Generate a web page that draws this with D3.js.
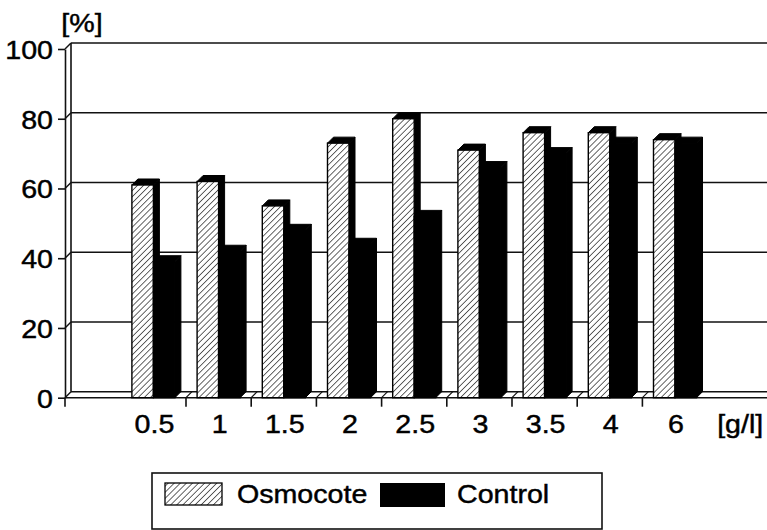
<!DOCTYPE html>
<html><head><meta charset="utf-8">
<script src="https://cdn.jsdelivr.net/npm/d3@7"></script>
<style>
html,body{margin:0;padding:0;background:#fff;}
svg text{font-family:"Liberation Sans",Arial,sans-serif;fill:#000;stroke:#000;stroke-width:0.45px;}
</style></head>
<body><svg id="c" width="767" height="530"></svg>
<script>
const categories = ["0.5","1","1.5","2","2.5","3","3.5","4","6"];
const osmocote = [61,62,55,73,80,71,76,76,74];
const control  = [39,42,48,44,52,66,70,73,73];
const seriesNames = ["Osmocote","Control"];
const yTicks = [0,20,40,60,80,100];
const yUnit = "[%]";
const xUnit = "[g/l]";

const W = 767, H = 530;
const dx = 6, dy = 6;           // 3D depth offset
const axisX = 65;
const svg = d3.select("#c");

const y = d3.scaleLinear().domain([0,100]).range([397.7,49]);
const x = d3.scaleBand().domain(categories).range([120.8,707.6]).paddingInner(0).paddingOuter(0);
const xs = d3.scaleBand().domain(seriesNames).range([0,x.bandwidth()]).paddingInner(0).paddingOuter(0.516);

const defs = svg.append("defs");
const pat = defs.append("pattern").attr("id","hatch").attr("patternUnits","userSpaceOnUse")
  .attr("width",4.3).attr("height",4.3).attr("patternTransform","rotate(45)");
pat.append("rect").attr("width",4.3).attr("height",4.3).attr("fill","#fff");
pat.append("line").attr("x1",0).attr("y1",0).attr("x2",0).attr("y2",4.3).attr("stroke","#000").attr("stroke-width",1.2);

const ink = "#111";
const g = svg.append("g");

// back wall + grid
g.append("line").attr("x1",axisX+dx).attr("x2",axisX+dx).attr("y1",y(0)-dy).attr("y2",y(100)-dy).attr("stroke",ink).attr("stroke-width",1.6);
yTicks.forEach(v=>{
  g.append("line").attr("x1",axisX+dx).attr("x2",W).attr("y1",y(v)-dy).attr("y2",y(v)-dy)
   .attr("stroke",ink).attr("stroke-width",1.5);
  g.append("line").attr("x1",axisX).attr("x2",axisX+dx).attr("y1",y(v)).attr("y2",y(v)-dy)
   .attr("stroke",ink).attr("stroke-width",1.5);
});
// front floor line
g.append("line").attr("x1",axisX).attr("x2",W).attr("y1",y(0)).attr("y2",y(0)).attr("stroke",ink).attr("stroke-width",1.6);

// y axis
const yAxis = d3.axisLeft(y).tickValues(yTicks).tickSize(7).tickSizeOuter(0).tickPadding(5);
const ya = svg.append("g").attr("transform",`translate(${axisX},0)`).call(yAxis);
ya.select(".domain").attr("stroke",ink).attr("stroke-width",1.6);
ya.selectAll(".tick line").attr("stroke",ink).attr("stroke-width",1.6);
ya.selectAll(".tick text").attr("font-size",26).attr("dy","0.36em")
  .style("transform-box","fill-box").style("transform-origin","right center").style("transform","scaleX(1.1)");

// x boundary ticks + floor diagonals
const bounds = categories.slice(1).map(c=>x(c));
g.selectAll(".xt").data([axisX].concat(bounds)).enter().append("line")
  .attr("x1",d=>d).attr("x2",d=>d).attr("y1",y(0)).attr("y2",y(0)+9).attr("stroke",ink).attr("stroke-width",1.6);
g.selectAll(".fd").data(bounds).enter().append("line")
  .attr("x1",d=>d).attr("x2",d=>d+dx).attr("y1",y(0)).attr("y2",y(0)-dy).attr("stroke",ink).attr("stroke-width",1.2);

// bars
function bar(parent, x0, w, v, front){
  const yt = y(v), yb = y(0);
  parent.append("path").attr("d",`M${x0+w},${yb}L${x0+w+dx},${yb-dy}L${x0+w+dx},${yt-dy}L${x0+w},${yt}Z`)
    .attr("fill","#000").attr("stroke","#000").attr("stroke-width",1);
  parent.append("path").attr("d",`M${x0},${yt}L${x0+dx},${yt-dy}L${x0+w+dx},${yt-dy}L${x0+w},${yt}Z`)
    .attr("fill","#000").attr("stroke","#000").attr("stroke-width",1);
  parent.append("rect").attr("x",x0).attr("y",yt).attr("width",w).attr("height",yb-yt)
    .attr("fill",front).attr("stroke","#000").attr("stroke-width",1.4);
}
const bars = svg.append("g");
categories.forEach((c,i)=>{
  bar(bars, x(c)+xs("Osmocote"), xs.bandwidth(), osmocote[i], "url(#hatch)");
  bar(bars, x(c)+xs("Control"), xs.bandwidth(), control[i], "#000");
});

// x labels
const xa = svg.append("g").attr("transform",`translate(0,${y(0)})`)
  .call(d3.axisBottom(x).tickSize(0).tickPadding(17));
xa.select(".domain").remove();
xa.selectAll(".tick text").attr("font-size",26).attr("dx",1)
  .style("transform-box","fill-box").style("transform-origin","center").style("transform","scaleX(1.1)");

// units
svg.append("text").attr("x",82).attr("y",32).attr("text-anchor","middle").attr("font-size",26)
  .style("transform-box","fill-box").style("transform-origin","center").style("transform","scaleX(1.1)").text(yUnit);
svg.append("text").attr("x",x(categories[categories.length-1])+x.step()*1.5).attr("y",433).attr("text-anchor","middle").attr("font-size",26)
  .style("transform-box","fill-box").style("transform-origin","center").style("transform","scaleX(1.1)").text(xUnit);

// legend
const lg = svg.append("g");
lg.append("rect").attr("x",152).attr("y",473).attr("width",450).attr("height",56)
  .attr("fill","#fff").attr("stroke",ink).attr("stroke-width",1.6);
lg.append("rect").attr("x",165).attr("y",483).attr("width",57).attr("height",22)
  .attr("fill","url(#hatch)").attr("stroke","#000").attr("stroke-width",1.3);
lg.append("text").attr("x",237).attr("y",503).attr("font-size",26)
  .style("transform-box","fill-box").style("transform-origin","left center").style("transform","scaleX(1.1)").text(seriesNames[0]);
lg.append("rect").attr("x",380).attr("y",483).attr("width",65).attr("height",24).attr("fill","#000");
lg.append("text").attr("x",457).attr("y",503).attr("font-size",26)
  .style("transform-box","fill-box").style("transform-origin","left center").style("transform","scaleX(1.1)").text(seriesNames[1]);
</script></body></html>
